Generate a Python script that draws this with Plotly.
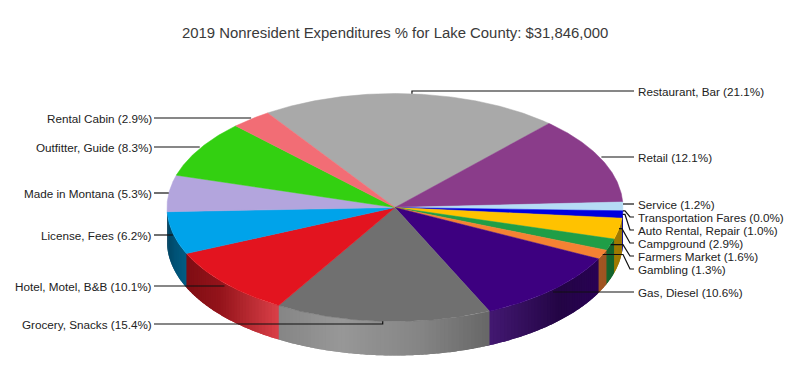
import numpy as np
import plotly.graph_objects as go

# ---- data ----
names = ["Restaurant, Bar", "Retail", "Service", "Transportation Fares", "Auto Rental, Repair",
         "Campground", "Farmers Market", "Gambling", "Gas, Diesel", "Grocery, Snacks",
         "Hotel, Motel, B&B", "License, Fees", "Made in Montana", "Outfitter, Guide", "Rental Cabin"]
percents = [21.1, 12.1, 1.2, 0.0, 1.0, 2.9, 1.6, 1.3, 10.6, 15.4, 10.1, 6.2, 5.3, 8.3, 2.9]
colors = ["#a9a9a9", "#8a3c8a", "#b5dcf5", "#7f7f7f", "#0000e0", "#ffc200", "#1f9e47", "#f58233",
          "#3d0080", "#707070", "#e3141f", "#00a3ea", "#b3a5dd", "#33d011", "#f26d75"]
title = "2019 Nonresident Expenditures % for Lake County: $31,846,000"

# ---- geometry (pixel layout; the page has an 8px body margin) ----
W, H = 803, 372
PAGE_MARGIN = 8
CX, CY, RX, RY, DEPTH = 395.0, 207.5, 228.0, 114.0, 34.0
START = -32.5
PERSPECTIVE = 1.6  # degrees of stretch on the near side of the tilted disc
PHASE = 80
label_y = [91, 157, 204, 217, 230, 243, 256, 269, 292, 324, 286, 235, 193, 147, 118]
label_side = [1, 1, 1, 1, 1, 1, 1, 1, 1, -1, -1, -1, -1, -1, -1]
elbow_x = [None, None, None, 625, 625, 622, 623, 623, None, None, None, None, None, None, None]
LEFT_X, RIGHT_X = 152, 638


def ex(t):
    return CX + RX * np.sin(np.radians(t))


def ey(t):
    return CY - RY * np.cos(np.radians(t))


def wall_color(hexc, x):
    r, g, b = [int(hexc[i:i + 2], 16) for i in (1, 3, 5)]
    f = np.interp(x, [167, 175, 187, 281, 340, 420, 488, 560, 600, 622],
                  [.42, .5, .55, .75, .9, .85, .7, .5, .65, .62])
    w = np.interp(x, [167, 220, 281, 340, 420, 488, 560, 622], [0, .03, .2, .2, .15, .1, .02, 0])
    c = [min(255, int(v * f + 255 * w)) for v in (r, g, b)]
    return f"rgb({c[0]},{c[1]},{c[2]})"


raw = START + 3.6 * np.concatenate([[0], np.cumsum(percents)])
edges = raw + PERSPECTIVE * np.sin(np.radians(raw - PHASE))
fig = go.Figure()

# side walls, drawn as overlapping shaded strips of the front half of the rim
for i, c in enumerate(colors):
    a, b = max(edges[i], 90), min(edges[i + 1], 270)
    if b <= a:
        continue
    n = max(1, int((b - a) / 1.0))
    ts = np.linspace(a, b, n + 1)
    step = ts[1] - ts[0]
    for t0 in ts[:-1]:
        seg = np.linspace(t0, min(t0 + 2 * step, 270), 5)
        xs = np.concatenate([ex(seg), ex(seg[::-1])])
        ys = np.concatenate([ey(seg), ey(seg[::-1]) + DEPTH])
        col = wall_color(c, ex(t0 + step / 2))
        fig.add_trace(go.Scatter(x=xs, y=ys, mode="none", fill="toself", fillcolor=col,
                                 hoverinfo="skip", showlegend=False))

# top faces
for i, c in enumerate(colors):
    if percents[i] <= 0:
        continue
    seg = np.linspace(edges[i], edges[i + 1], max(3, int(percents[i] * 8)))
    fig.add_trace(go.Scatter(x=np.r_[CX, ex(seg), CX], y=np.r_[CY, ey(seg), CY], mode="lines", fill="toself",
                             fillcolor=c, line=dict(color=c, width=0.5), hoverinfo="text",
                             text=f"{names[i]} ({percents[i]:.1f}%)", showlegend=False))

# leaders and labels
annotations = []
for i, nm in enumerate(names):
    mid = (edges[i] + edges[i + 1]) / 2
    ax, ay = ex(mid), ey(mid)
    ly = label_y[i]
    s = label_side[i]
    end = RIGHT_X - 4 if s > 0 else LEFT_X + 2
    if elbow_x[i] is not None:
        px = [ax, elbow_x[i], end - 4, end]
        py = [ay, ay, ly, ly]
    elif abs(ay - ly) < 5 and abs(ax - end) > 120:
        px = [ax, ax, end]
        py = [ay, ly, ly]
    elif abs(ay - ly) < 5:
        px = [ax, end]
        py = [ly, ly]
    else:
        px = [ax, ax + s * 4, end]
        py = [ay, ly, ly]
    fig.add_trace(go.Scatter(x=px, y=py, mode="lines", line=dict(color="#111111", width=1.2),
                             hoverinfo="skip", showlegend=False))
    annotations.append(dict(x=RIGHT_X if s > 0 else LEFT_X, y=ly, xref="x", yref="y", showarrow=False,
                            text=f"{nm} ({percents[i]:.1f}%)", xanchor="left" if s > 0 else "right",
                            xshift=-2 if s > 0 else 2,
                            yanchor="middle", font=dict(size=11.7, color="#222222")))
annotations.append(dict(x=394.5, y=33, xref="x", yref="y", showarrow=False, text=title,
                        xanchor="center", yanchor="middle", font=dict(size=14.9, color="#3a3a3a")))

fig.update_layout(
    width=W - PAGE_MARGIN, height=H - PAGE_MARGIN, margin=dict(l=0, r=0, t=0, b=0),
    paper_bgcolor="white", plot_bgcolor="white",
    font=dict(family="Liberation Sans, Arial, sans-serif"), showlegend=False, annotations=annotations,
    xaxis=dict(range=[PAGE_MARGIN, W], visible=False, fixedrange=True),
    yaxis=dict(range=[H, PAGE_MARGIN], visible=False, fixedrange=True),
)
fig.write_html("out.html", config={"displayModeBar": False})
